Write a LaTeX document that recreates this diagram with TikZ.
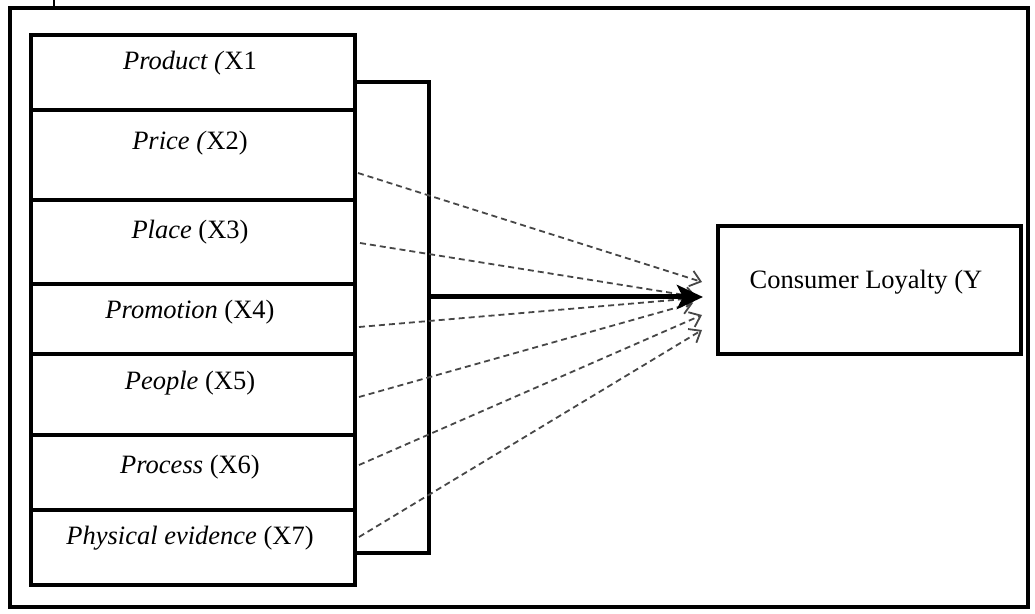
\documentclass[tikz,border=0pt]{standalone}
\usepackage{fontspec}
\setmainfont{Liberation Serif}
\usetikzlibrary{arrows.meta}
\begin{document}
\begin{tikzpicture}[x=1pt,y=1pt,
  cell/.style={draw, line width=4pt, minimum width=324pt, anchor=north west, inner sep=0pt, outer sep=0pt},
  lbl/.style={font=\fontsize{26.5}{30}\selectfont, inner sep=0pt},
  dep/.style={draw=black!72, line width=1.8pt, dash pattern=on 6pt off 4pt, -{Straight Barb[length=10pt,width=16pt,line width=1.8pt]}},
  mainarrow/.style={line width=5pt, -{Stealth[length=26pt,width=24pt,inset=6pt]}},
  frameline/.style={line width=4pt}]
\useasboundingbox (0,0) rectangle (1035,613);
% outer frame
\draw[frameline] (10,6) rectangle (1028,605);
\draw[line width=1.5pt] (54,613) -- (54,606) (51,606) -- (57,606);
% stacked boxes
\node[cell, minimum height=75pt] (product) at (31,578) {};
\node[cell, minimum height=90pt] (price) at (31,503) {};
\node[cell, minimum height=84pt] (place) at (31,413) {};
\node[cell, minimum height=70pt] (promotion) at (31,329) {};
\node[cell, minimum height=81pt] (people) at (31,259) {};
\node[cell, minimum height=75pt] (process) at (31,178) {};
\node[cell, minimum height=75pt] (physical) at (31,103) {};
% labels
\node[lbl] (tproduct) at (190,550) {\textit{Product (}X1};
\node[lbl] (tprice) at (190,470) {\textit{Price (}X2)};
\node[lbl] (tplace) at (190,381) {\textit{Place} (X3)};
\node[lbl] (tpromotion) at (190,301) {\textit{Promotion} (X4)};
\node[lbl] (tpeople) at (190,230) {\textit{People} (X5)};
\node[lbl] (tprocess) at (190,146) {\textit{Process} (X6)};
\node[lbl] (tphysical) at (190,75) {\textit{Physical evidence} (X7)};
% consumer loyalty box
\node[cell, minimum width=303pt, minimum height=128pt] (loyalty) at (718,387) {};
\node[lbl] (tloyalty) at (866,331) {Consumer Loyalty (Y};
% bracket
\draw[line width=4pt] (product.east |- 0,531) -- (429,531) -- (429,60) -- (physical.east |- 0,60);
\coordinate (bk) at (429,316);
\coordinate (tip) at (703,316);
% dashed arrows
\coordinate (e1) at (702,331);
\coordinate (e2) at (697,316);
\coordinate (e3) at (697,315);
\coordinate (e4) at (693,310);
\coordinate (e5) at (702,298);
\coordinate (e6) at (702,283);
\draw[dep] ([xshift=3pt,yshift=-18pt]price.east) -- (e1);
\draw[dep] ([xshift=5pt,yshift=-1pt]place.east) -- (e2);
\draw[dep] ([xshift=4pt,yshift=-8pt]promotion.east) -- (e3);
\draw[dep] ([xshift=4pt,yshift=-2.5pt]people.east) -- (e4);
\draw[dep] ([xshift=4pt,yshift=7.5pt]process.east) -- (e5);
\draw[dep] ([xshift=4pt,yshift=10.5pt]physical.east) -- (e6);
% main arrow on top
\draw[mainarrow] (bk) -- (tip);
\end{tikzpicture}
\end{document}
